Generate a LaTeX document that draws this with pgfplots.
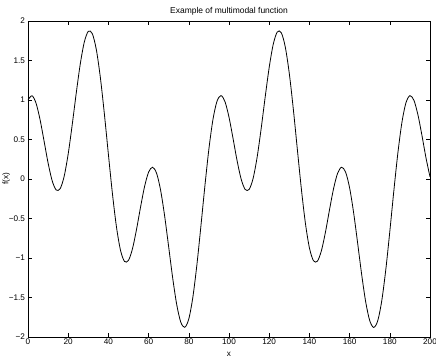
\documentclass[border=0pt]{standalone}
\usepackage{fontspec}
\setmainfont{Liberation Sans}
\usepackage{pgfplots}
\pgfplotsset{compat=1.18}
\begin{document}
\begin{tikzpicture}[x=1bp,y=1bp]
\begin{axis}[
  name=ax, at={(0,0)}, anchor=south west,
  scale only axis, width=402bp, height=316bp,
  xmin=0, xmax=200, ymin=-2, ymax=2,
  xtick={0,20,40,60,80,100,120,140,160,180,200},
  ytick={-2,-1.5,-1,-0.5,0,0.5,1,1.5,2},
  yticklabels={−2,−1.5,−1,−0.5,0,0.5,1,1.5,2},
  xticklabels={0,20,40,60,80,100,120,140,160,180,200},
  tick align=inside, major tick length=4bp,
  tick style={black, line width=0.6bp},
  axis line style={line width=0.9bp},
  ticklabel style={font=\fontsize{8.2}{9}\selectfont},
  xticklabel style={yshift=1.5bp},
  yticklabel style={xshift=0.5bp},
  title={Example of multimodal function},
  title style={font=\fontsize{8.5}{10}\selectfont, yshift=-3.5bp},
  xlabel={x}, ylabel={f(x)},
  label style={font=\fontsize{8.2}{9}\selectfont},
  ylabel style={yshift=-8bp},
  xlabel style={yshift=-1bp},
]
\addplot[black, line width=0.8bp, smooth] coordinates {
(0,1.0000)(2,1.0540)(4,0.9602)(6,0.7518)(8,0.4792)(10,0.2023)(12,-0.0200)(14,-0.1386)(16,-0.1227)(18,0.0352)
(20,0.3183)(22,0.6873)(24,1.0871)(26,1.4553)(28,1.7322)(30,1.8695)(32,1.8391)(34,1.6369)(36,1.2839)(38,0.8228)
(40,0.3118)(42,-0.1843)(44,-0.6043)(46,-0.8999)(48,-1.0431)(50,-1.0297)(52,-0.8804)(54,-0.6368)(56,-0.3548)(58,-0.0949)
(60,0.0871)(62,0.1492)(64,0.0705)(66,-0.1457)(68,-0.4724)(70,-0.8623)(72,-1.2560)(74,-1.5911)(76,-1.8116)(78,-1.8777)
(80,-1.7710)(82,-1.4987)(84,-1.0920)(86,-0.6013)(88,-0.0889)(90,0.3809)(92,0.7513)(94,0.9823)(96,1.0558)(98,0.9790)
(100,0.7823)(102,0.5145)(104,0.2347)(106,0.0028)(108,-0.1308)(110,-0.1325)(112,0.0083)(114,0.2776)(116,0.6386)(118,1.0379)
(120,1.4136)(122,1.7046)(124,1.8612)(126,1.8523)(128,1.6708)(130,1.3345)(132,0.8838)(134,0.3756)(136,-0.1258)(138,-0.5582)
(140,-0.8713)(142,-1.0340)(144,-1.0393)(146,-0.9050)(148,-0.6704)(150,-0.3897)(152,-0.1238)(154,0.0703)(156,0.1490)(158,0.0880)
(160,-0.1122)(162,-0.4273)(164,-0.8124)(166,-1.2092)(168,-1.5548)(170,-1.7921)(172,-1.8787)(174,-1.7936)(176,-1.5406)(178,-1.1481)
(180,-0.6646)(182,-0.1512)(184,0.3271)(186,0.7124)(188,0.9621)(190,1.0552)(192,0.9958)(194,0.8116)(196,0.5496)(198,0.2680)
(200,0.0271)
};
\end{axis}
\pgfresetboundingbox
\useasboundingbox (-28,-21) rectangle (408,337);
\end{tikzpicture}
\end{document}
